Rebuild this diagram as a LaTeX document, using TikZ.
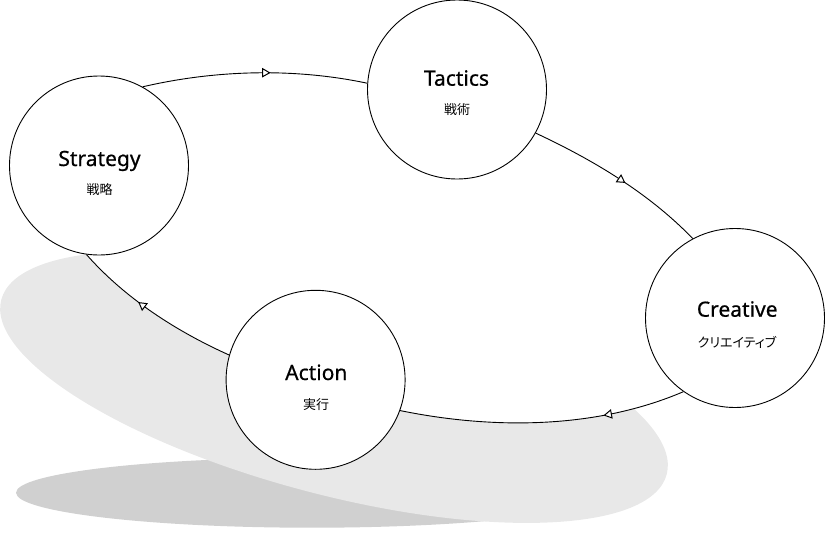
\documentclass[tikz,border=0pt]{standalone}
\usepackage{fontspec}
\setmainfont{Noto Sans}
\newfontfamily\ttlfont[FakeBold=0.6]{Noto Sans}
\newfontfamily\jpfont[RawFeature=+palt]{Noto Sans CJK JP}
\usetikzlibrary{arrows.meta,decorations.markings,calc}
\pgfdeclarelayer{bg}
\pgfsetlayers{bg,main}
\definecolor{shlight}{RGB}{232,232,232}
\definecolor{shdark}{RGB}{208,208,208}
\begin{document}
\begin{tikzpicture}[x=1pt,y=-1pt,
  stage/.style={circle, draw=black, fill=white, line width=0.9pt, minimum size=179pt, inner sep=0pt},
  ttl/.style={font=\ttlfont\fontsize{21}{25}\selectfont, anchor=base, inner sep=0pt},
  sub/.style={font=\jpfont\fontsize{13}{15}\selectfont, anchor=base, inner sep=0pt},
  link/.style={draw=black, line width=0.9pt},
  midarrow/.style={postaction={decorate}, decoration={markings, mark=at position #1 with {\arrow{Triangle[length=8.5pt,width=9.5pt,fill=white,line width=1pt]}}}}
]
\useasboundingbox (0,0) rectangle (827,557);

% circles
\node[stage] (st) at (99,165.5) {};
\node[stage] (ta) at (457,89.5) {};
\node[stage] (cr) at (735,318) {};
\node[stage] (ac) at (315.6,379.8) {};

% texts
\node[ttl] (stt) at (99.5,166) {Strategy};
\node[sub] (sts) at (99.5,194) {戦略};
\node[ttl] (tat) at (456.5,85.7) {Tactics};
\node[sub] (tas) at (457,114) {戦術};
\node[ttl] (crt) at (737.2,316.7) {Creative};
\node[sub] (crs) at (737,347) {クリエイティブ};
\node[ttl] (act) at (316.3,380) {Action};
\node[sub] (acs) at (316,409) {実行};

% control points
\coordinate (a1) at (215.2,69.9);
\coordinate (a2) at (293.9,67.7);
\coordinate (b1) at (592.9,159.8);
\coordinate (b2) at (649,193.2);
\coordinate (c1) at (596.2,429);
\coordinate (c2) at (493,429.6);
\coordinate (d1) at (176.4,331.3);
\coordinate (d2) at (125.1,298.4);

% connectors
\draw[link, midarrow=0.57] (st.61.6) .. controls (a1) and (a2) .. (ta.176);
\draw[link, midarrow=0.54] (ta.-29.7) .. controls (b1) and (b2) .. (cr.118.7);
\draw[link, midarrow=0.29] (cr.-125.1) .. controls (c1) and (c2) .. (ac.-20.5);
\draw[link, midarrow=0.60] (ac.164.6) .. controls (d1) and (d2) .. (st.-98.3);

% shadows and loop interior
\begin{pgfonlayer}{bg}
\fill[shdark] (312,492.7) ellipse [x radius=296, y radius=35];
\fill[shlight, rotate around={-14.7:(334,387)}] (334,387) ellipse [x radius=344, y radius=107.7];
\fill[white] (st.61.6) .. controls (a1) and (a2) .. (ta.176) -- (ta.-29.7)
  .. controls (b1) and (b2) .. (cr.118.7) -- (cr.-125.1)
  .. controls (c1) and (c2) .. (ac.-20.5) -- (ac.164.6)
  .. controls (d1) and (d2) .. (st.-98.3) -- cycle;
\end{pgfonlayer}
\end{tikzpicture}
\end{document}
